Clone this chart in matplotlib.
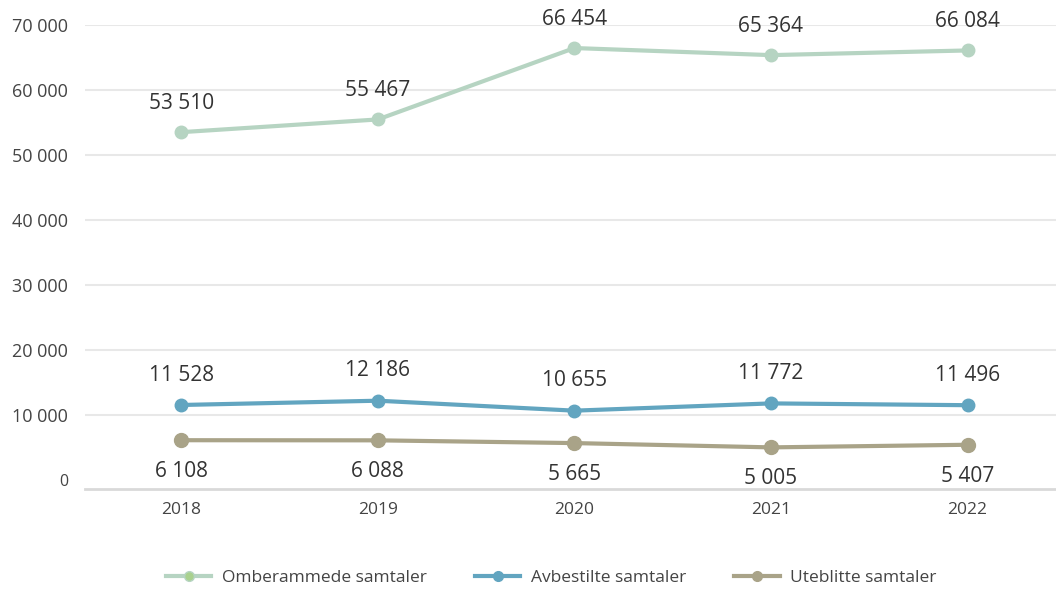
import matplotlib.pyplot as plt
from matplotlib.ticker import FixedLocator, FuncFormatter

plt.rcParams['font.family'] = ['Open Sans', 'DejaVu Sans']

years = ['2018', '2019', '2020', '2021', '2022']
omberammede = [53510, 55467, 66454, 65364, 66084]
avbestilte = [11528, 12186, 10655, 11772, 11496]
uteblitte = [6108, 6088, 5665, 5005, 5407]

series_names = ['Omberammede samtaler', 'Avbestilte samtaler', 'Uteblitte samtaler']


def fmt(v):
    return f'{int(v):,}'.replace(',', ' ')


fig = plt.figure(figsize=(10.56, 5.9), dpi=100)
ax = fig.add_axes([85 / 1056, 101 / 590, 1 - 85 / 1056, (489 - 25) / 590])

x = list(range(len(years)))
green, blue, brown = '#b6d4c2', '#62a5c0', '#a9a388'

ax.plot(x, omberammede, color=green, lw=3, marker='o', ms=9, label=series_names[0],
        mfc=green, mec=green)
ax.plot(x, avbestilte, color=blue, lw=3, marker='o', ms=9, label=series_names[1])
ax.plot(x, uteblitte, color=brown, lw=3, marker='o', ms=10, label=series_names[2])

# dataetiketter
for xi, v in zip(x, omberammede):
    ax.annotate(fmt(v), (xi, v), xytext=(0, 13), textcoords='offset points',
                ha='center', va='bottom', fontsize=15, color='#333333')
for xi, v in zip(x, avbestilte):
    ax.annotate(fmt(v), (xi, v), xytext=(0, 14), textcoords='offset points',
                ha='center', va='bottom', fontsize=15, color='#333333')
for xi, v in zip(x, uteblitte):
    ax.annotate(fmt(v), (xi, v), xytext=(0, -15), textcoords='offset points',
                ha='center', va='top', fontsize=15, color='#333333')

ax.set_xlim(-0.49, 4.45)
ax.set_ylim(-1400, 70000)
ax.yaxis.set_major_locator(FixedLocator(range(0, 70001, 10000)))
ax.yaxis.set_major_formatter(FuncFormatter(lambda v, p: fmt(v)))
ax.set_xticks(x)
ax.set_xticklabels(years)

ax.grid(axis='y', color='#e8e8e8', lw=1.5)
ax.get_ygridlines()[0].set_visible(False)
ax.set_axisbelow(True)
for s in ['top', 'right', 'left']:
    ax.spines[s].set_visible(False)
ax.spines['bottom'].set_color('#d9d9d9')
ax.spines['bottom'].set_linewidth(2)
ax.tick_params(length=0)
ax.tick_params(axis='y', labelsize=13, colors='#444444', pad=12)
ax.tick_params(axis='x', labelsize=12.5, colors='#444444', pad=9)
ax.get_yticklabels()[0].set_fontsize(11.5)

leg = fig.legend(loc='lower center', bbox_to_anchor=(0.522, -0.02), ncol=3, frameon=False,
                 fontsize=12.5, handlelength=2.6, columnspacing=2.8, handletextpad=0.6)
for t in leg.get_texts():
    t.set_color('#444444')
leg.legend_handles[0].set_markerfacecolor('#a9d18e')
for h in leg.legend_handles:
    h.set_markersize(7)

plt.savefig('out.png', dpi=100)
plt.close()
